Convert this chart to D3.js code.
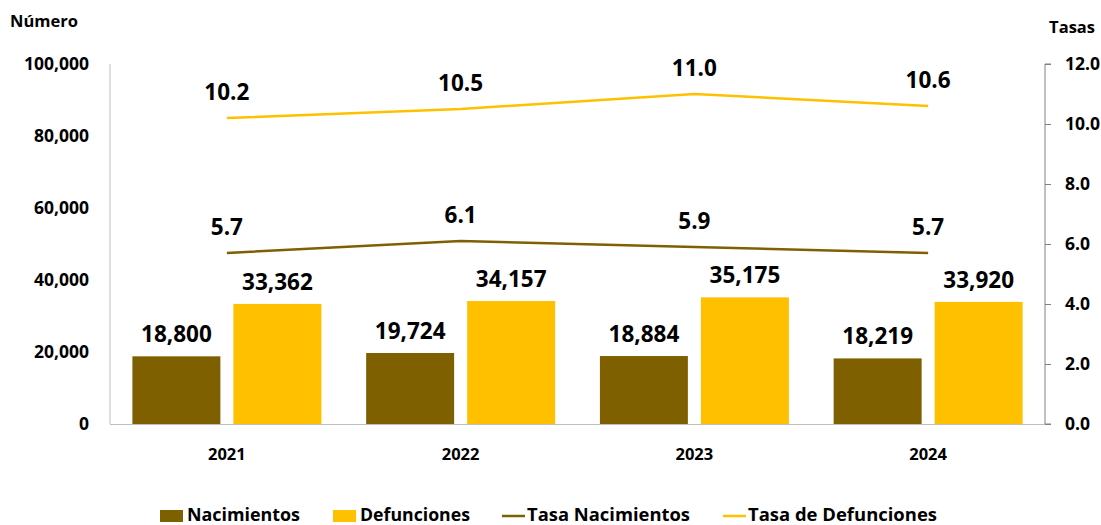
<!DOCTYPE html>
<html><head><meta charset="utf-8">
<script src="https://cdn.jsdelivr.net/npm/d3@7"></script>
<style>
html,body{margin:0;padding:0;background:#fff;}
svg text{font-family:"Open Sans",sans-serif;font-weight:700;fill:#000;}
</style></head>
<body>
<svg id="c" width="1101" height="525"></svg>
<script>
const years = ["2021","2022","2023","2024"];
const nacimientos = [18800, 19724, 18884, 18219];
const defunciones = [33362, 34157, 35175, 33920];
const tasaNacimientos = [5.7, 6.1, 5.9, 5.7];
const tasaDefunciones = [10.2, 10.5, 11.0, 10.6];
const leftTicks = [0, 20000, 40000, 60000, 80000, 100000];
const rightTicks = [0, 2, 4, 6, 8, 10, 12];
const seriesNames = ["Nacimientos","Defunciones"];
const colors = {Nacimientos:"#7F6000", Defunciones:"#FFC000"};

const svg = d3.select("#c");
const L = 110, R = 1045, T = 64, B = 424;

const x0 = d3.scaleBand().domain(years).range([L, R]).padding(0);
const x1 = d3.scaleBand().domain(seriesNames).range([22.4, 211.4]).paddingInner(0.129).paddingOuter(0);
const yL = d3.scaleLinear().domain([0, 100000]).range([B, T]);
const yR = d3.scaleLinear().domain([0, 12]).range([B, T]);
const fmt = d3.format(",");

// axes lines
svg.append("line").attr("x1", L).attr("x2", L).attr("y1", T).attr("y2", B).attr("stroke", "#BFBFBF").attr("stroke-width", 1);
svg.append("line").attr("x1", L).attr("x2", R).attr("y1", B + 0.5).attr("y2", B + 0.5).attr("stroke", "#BFBFBF").attr("stroke-width", 1);

// left axis labels
svg.append("g").selectAll("text").data(leftTicks).join("text")
  .attr("x", 89).attr("y", d => yL(d)).attr("dy", "0.36em")
  .attr("text-anchor", "end").attr("font-size", 17.5).text(d => fmt(d));

// right axis
const gR = svg.append("g").attr("transform", `translate(${R},0)`);
const axisR = d3.axisRight(yR).tickValues(rightTicks).tickSize(6).tickFormat(d3.format(".1f"));
gR.call(axisR);
gR.select(".domain").attr("stroke", "#808080").attr("d", `M6,${T}H0V${B}H6`);
gR.selectAll(".tick line").attr("stroke", "#808080");
gR.selectAll(".tick text").attr("x", 20).attr("font-size", 17.5).attr("font-family", "Open Sans").attr("font-weight", 700).attr("fill", "#000").attr("text-anchor", "start");

// axis titles
svg.append("text").attr("x", 10).attr("y", 27).attr("font-size", 16.5).text("Número");
svg.append("text").attr("x", 1095).attr("y", 33).attr("font-size", 16.5).attr("text-anchor", "end").text("Tasas");

// x labels
svg.append("g").selectAll("text").data(years).join("text")
  .attr("x", d => x0(d) + x0.bandwidth() / 2).attr("y", 460)
  .attr("text-anchor", "middle").attr("font-size", 16.5).text(d => d);

// bars
const barData = [];
years.forEach((y, i) => {
  barData.push({year: y, s: "Nacimientos", v: nacimientos[i]});
  barData.push({year: y, s: "Defunciones", v: defunciones[i]});
});
svg.append("g").selectAll("rect").data(barData).join("rect")
  .attr("x", d => x0(d.year) + x1(d.s))
  .attr("width", x1.bandwidth())
  .attr("y", d => yL(d.v))
  .attr("height", d => B - yL(d.v))
  .attr("fill", d => colors[d.s]);
svg.append("g").selectAll("text").data(barData).join("text")
  .attr("x", d => x0(d.year) + x1(d.s) + x1.bandwidth() / 2)
  .attr("y", d => yL(d.v) - 14)
  .attr("text-anchor", "middle").attr("font-size", 22.5)
  .text(d => fmt(d.v));

// lines
const cx = y => x0(y) + x0.bandwidth() / 2;
const line = d3.line().x((d, i) => cx(years[i])).y(d => yR(d));
[[tasaNacimientos, colors.Nacimientos], [tasaDefunciones, colors.Defunciones]].forEach(([arr, col]) => {
  svg.append("path").datum(arr).attr("d", line).attr("fill", "none").attr("stroke", col).attr("stroke-width", 2.5);
  svg.append("g").selectAll("text").data(arr).join("text")
    .attr("x", (d, i) => cx(years[i]))
    .attr("y", d => yR(d) - 18)
    .attr("text-anchor", "middle").attr("font-size", 22.5)
    .text(d => d.toFixed(1));
});

// legend
const legend = [
  {name: "Nacimientos", type: "rect", col: colors.Nacimientos, x: 160, tx: 187, tw: 113},
  {name: "Defunciones", type: "rect", col: colors.Defunciones, x: 333, tx: 360, tw: 110},
  {name: "Tasa Nacimientos", type: "line", col: colors.Nacimientos, x: 502, tx: 527, tw: 163},
  {name: "Tasa de Defunciones", type: "line", col: colors.Defunciones, x: 723, tx: 748, tw: 189}
];
const lg = svg.append("g");
legend.forEach(d => {
  if (d.type === "rect") {
    lg.append("rect").attr("x", d.x).attr("y", 510).attr("width", 23).attr("height", 12).attr("fill", d.col);
  } else {
    lg.append("line").attr("x1", d.x).attr("x2", d.x + 23).attr("y1", 516).attr("y2", 516).attr("stroke", d.col).attr("stroke-width", 2.5);
  }
  lg.append("text").attr("x", d.tx).attr("y", 521).attr("font-size", 17)
    .attr("textLength", d.tw).attr("lengthAdjust", "spacingAndGlyphs").text(d.name);
});
</script>
</body></html>
